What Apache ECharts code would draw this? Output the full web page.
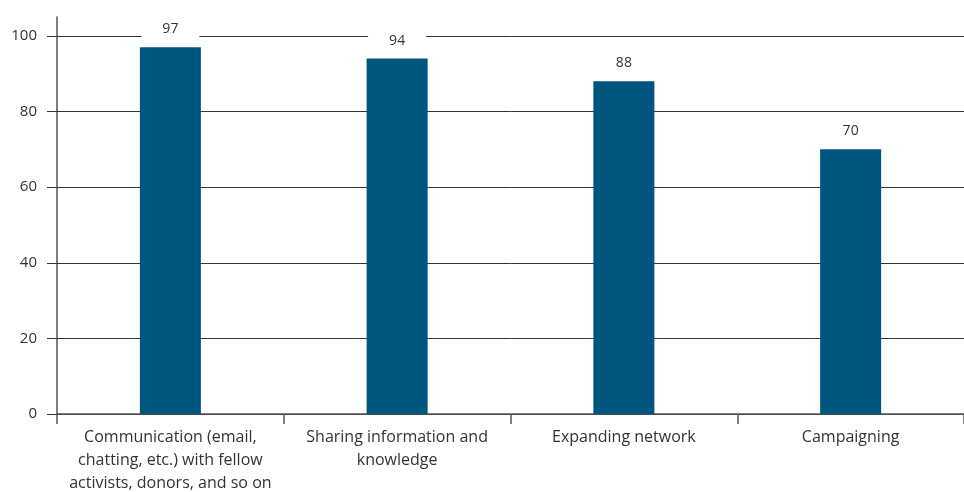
<!DOCTYPE html>
<html><head><meta charset="utf-8">
<script src="https://cdn.jsdelivr.net/npm/echarts@6/dist/echarts.min.js"></script>
<style>html,body{margin:0;padding:0;background:#fff}#c{width:964px;height:492px}</style>
</head><body><div id="c"></div>
<script>
const categories = [
  "Communication (email,\nchatting, etc.) with fellow\nactivists, donors, and so on",
  "Sharing information and\nknowledge",
  "Expanding network",
  "Campaigning"
];
const values = [97, 94, 88, 70];
const yTicks = [0, 20, 40, 60, 80, 100];

const chart = echarts.init(document.getElementById('c'), null, {renderer: 'canvas'});
chart.setOption({
  animation: false,
  backgroundColor: '#fff',
  grid: {left: 57, right: 0, top: 17, bottom: 78, containLabel: false, outerBoundsMode: 'none'},
  xAxis: {
    type: 'category',
    data: categories,
    axisLine: {show: true, lineStyle: {color: '#555', width: 1.5}},
    axisTick: {show: true, length: 10, alignWithLabel: false, lineStyle: {color: '#555', width: 1.5}},
    axisLabel: {color: '#333', fontFamily: 'Open Sans', fontSize: 16, lineHeight: 23, margin: 12, interval: 0}
  },
  yAxis: {
    type: 'value',
    min: 0, max: 105, interval: 20,
    axisLine: {show: true, lineStyle: {color: '#555', width: 1.5}},
    axisTick: {show: true, length: 10, lineStyle: {color: '#333', width: 1}},
    splitLine: {show: true, showMaxLine: false, lineStyle: {color: '#333', width: 1}},
    axisLabel: {
      color: '#333', fontFamily: 'Open Sans', fontSize: 15, margin: 20,
      showMaxLabel: false,
      formatter: v => yTicks.indexOf(v) >= 0 ? String(v) : ''
    }
  },
  series: [{
    type: 'bar',
    data: values,
    barWidth: 61,
    itemStyle: {color: '#00557f'},
    label: {
      show: true, position: 'top', distance: 6,
      color: '#333', fontFamily: 'Open Sans', fontSize: 14,
      backgroundColor: '#fff', padding: [5, 21, 5, 21]
    }
  }]
});
</script></body></html>
